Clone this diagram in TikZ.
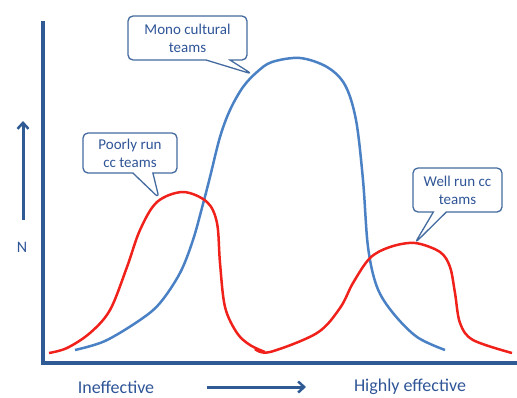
\documentclass[tikz,border=0pt]{standalone}
\usepackage{fontspec}
\setmainfont{Carlito}
\usepackage{xcolor}
\usepackage{tikz}
\usetikzlibrary{shapes,shapes.callouts,arrows.meta,positioning,calc}

\definecolor{axisblue}{HTML}{2F5A94}
\definecolor{textblue}{HTML}{2F5597}
\definecolor{curveblue}{HTML}{4A80C4}
\definecolor{curvered}{HTML}{F0201A}

\begin{document}
\begin{tikzpicture}[
    x=1pt, y=-1pt,
    axis/.style={draw=axisblue, line width=3.5pt},
    dirarrow/.style={draw=axisblue, line width=3pt, -{Straight Barb[length=6pt,width=11pt,line width=2.5pt]}},
    axislabel/.style={text=textblue, font=\fontsize{18}{20}\selectfont, inner sep=0pt},
    curve/.style={line width=2.5pt, smooth, tension=0.55},
    bubble/.style={rectangle callout, draw=axisblue!90, line width=1.3pt, rounded corners=5pt, fill=white,
        text=textblue, font=\fontsize{15}{18}\selectfont, align=center, inner sep=0pt}
]
\useasboundingbox (0,0) rectangle (517,397);

% Axes
\coordinate (ytop) at (43,21);
\coordinate (origin) at (43,363);
\coordinate (xend) at (517,363);
\draw[axis] (ytop) -- (origin) -- (xend);

% N direction
\coordinate (nlow) at (23,220);
\coordinate (nhigh) at (23,121);
\draw[dirarrow] (nlow) -- (nhigh);
\node[axislabel, font=\fontsize{16}{18}\selectfont] (nlabel) at (22,247) {N};

% Effectiveness direction
\node[axislabel] (ineff) at (116,387) {Ineffective};
\node[axislabel] (higheff) at (410,387) {Highly effective};
\coordinate (elow) at (207,387);
\coordinate (ehigh) at (306,387);
\draw[dirarrow] (elow) -- (ehigh);

% Mono cultural curve
\draw[curve, curveblue] plot coordinates {(75,350) (105,341) (140,320) (160,303) (180,273) (193,240)
    (203,204) (210,177) (220,137) (230,110) (243,87) (257,72) (272,62) (300,58) (327,67) (345,85)
    (356,120) (363,180) (368,247) (377,287) (393,313) (417,337) (445,350)};

% Cross cultural curves
\draw[curve, curvered] plot coordinates {(49,353) (67,348) (90,333) (110,310) (127,267) (140,230) (157,202)
    (183,192) (207,202) (217,223) (220,263) (225,307) (237,333) (250,345) (265,352)};
\draw[curve, curvered] plot coordinates {(255,349) (270,352) (317,333) (340,308) (353,283) (370,258)
    (390,247) (415,243) (440,252) (450,267) (455,293) (460,323) (473,340) (512,353)};

% Callouts
\node[bubble, minimum width=119pt, minimum height=44pt, callout pointer width=24pt,
    callout absolute pointer={(252,74)}] (mono) at (187.5,38) {Mono cultural\\teams};
\node[bubble, minimum width=94pt, minimum height=40pt, callout pointer width=20pt,
    callout absolute pointer={(159,198)}] (poorly) at (130,153) {Poorly run\\cc teams};
\node[bubble, minimum width=89pt, minimum height=44pt, callout pointer width=13pt,
    callout absolute pointer={(415,243)}] (wellrun) at (457.5,190) {Well run cc\\teams};

\end{tikzpicture}
\end{document}
